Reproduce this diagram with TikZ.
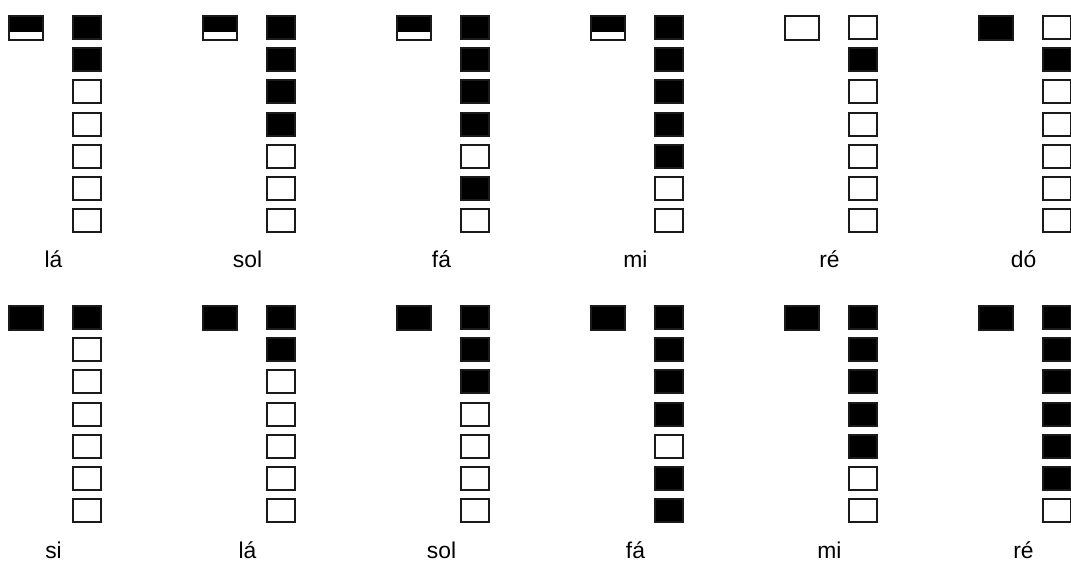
\documentclass[tikz,border=0pt]{standalone}
\usepackage{fontspec}
\setmainfont{Liberation Sans}
\usepackage{tikz}
\usetikzlibrary{arrows.meta}
\definecolor{HoleInk}{HTML}{000000}
\definecolor{HoleEdge}{HTML}{1A1A1A}

\tikzset{
  hole/.style={draw=HoleEdge, line width=1.2pt, minimum width=0.56cm, minimum height=0.46cm, inner sep=0pt},
  hole0/.style={hole, fill=white},
  hole1/.style={hole, fill=HoleInk},
  thumbhole/.style={draw=HoleEdge, line width=1.2pt, minimum width=0.68cm, minimum height=0.48cm, inner sep=0pt},
  thumb0/.style={thumbhole, fill=white},
  thumb1/.style={thumbhole, fill=HoleInk},
  thumbh/.style={thumbhole, fill=white,
    path picture={\fill[HoleInk] (path picture bounding box.north west) rectangle ([yshift=-0.32cm]path picture bounding box.north east);}},
  notename/.style={anchor=base, font=\fontsize{13}{15}\selectfont}
}

\begin{document}
\begin{tikzpicture}[>=Latex]
        \useasboundingbox (0,0) rectangle (21.42,-11.3);
        \clip (0,0) rectangle (21.42,-11.3);
        % row, column, note, thumb, holes from top to bottom
        \foreach \r/\c/\name/\th/\holes in {
          0/0/lá/h/{1,1,0,0,0,0,0},
          0/1/sol/h/{1,1,1,1,0,0,0},
          0/2/fá/h/{1,1,1,1,0,1,0},
          0/3/mi/h/{1,1,1,1,1,0,0},
          0/4/ré/0/{0,1,0,0,0,0,0},
          0/5/dó/1/{0,1,0,0,0,0,0},
          1/0/si/1/{1,0,0,0,0,0,0},
          1/1/lá/1/{1,1,0,0,0,0,0},
          1/2/sol/1/{1,1,1,0,0,0,0},
          1/3/fá/1/{1,1,1,1,0,1,1},
          1/4/mi/1/{1,1,1,1,1,0,0},
          1/5/ré/1/{1,1,1,1,1,1,0}} {
          \node[thumb\th] (t\r\c) at (\c*3.88+0.52,-\r*5.8-0.56) {};
          \foreach \s [count=\k] in \holes {
            \node[hole\s] (h\r\c\k) at (\c*3.88+1.74,-\r*5.8-0.55-\k*0.644+0.644) {};
          }
          \node[notename] (n\r\c) at (\c*3.88+1.07,-\r*5.8-5.36) {\name};
        }
      \end{tikzpicture}
\end{document}
